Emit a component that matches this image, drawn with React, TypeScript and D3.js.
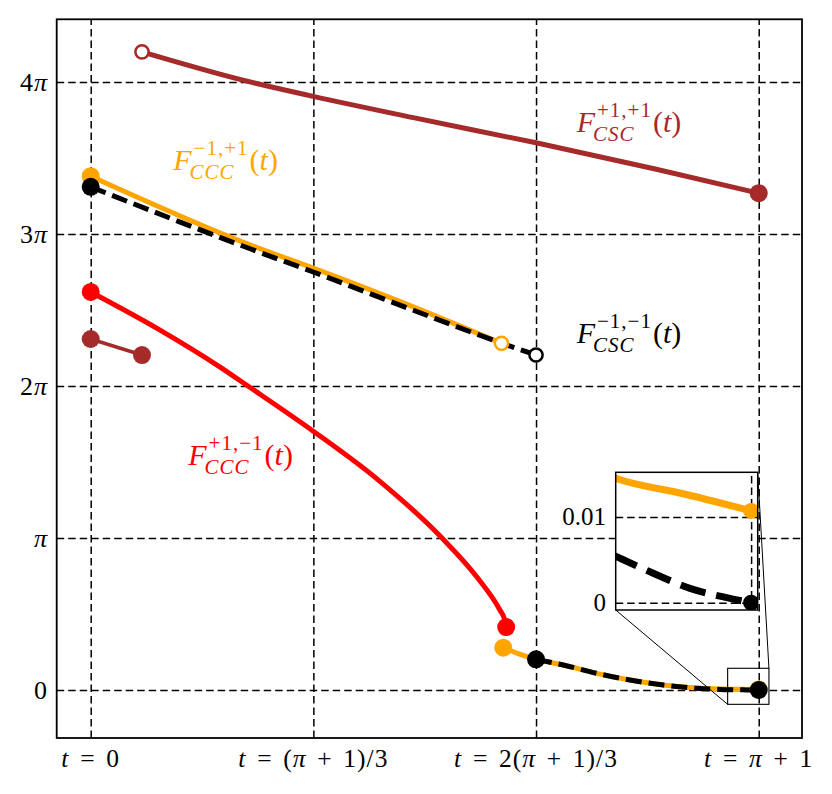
import { useEffect, useRef } from 'react'
import * as d3 from 'd3'

const PI = Math.PI
const T_END = PI + 1

// ticks
const xTicks = [0, T_END / 3, (2 * T_END) / 3, T_END]
const xTickLabels = ['t = 0', 't = (π + 1)/3', 't = 2(π + 1)/3', 't = π + 1']
const yTicks = [0, PI, 2 * PI, 3 * PI, 4 * PI]
const yTickLabels = ['0', 'π', '2π', '3π', '4π']
const insetYTicks = [0, 0.01]
const insetYTickLabels = ['0', '0.01']

// series, [t, F(t)]
const cscPlusPlus: [number, number][] = [
  [0.318, 13.19], [0.95, 12.6], [1.38, 12.27], [2.0, 11.83], [2.761, 11.31], [3.5, 10.77], [4.1416, 10.27]
]
const cscPlusPlusShort: [number, number][] = [
  [0, 7.255], [0.318, 6.924]
]
const cccPlusMinus: [number, number][] = [
  [0, 8.227], [0.43, 7.44], [0.8, 6.68], [0.975, 6.283], [1.38, 5.35], [1.78, 4.35],
  [2.178, 3.142], [2.393, 2.342], [2.537, 1.654], [2.565, 1.47], [2.576, 1.3]
]
const cccMinusPlusUpper: [number, number][] = [
  [0, 10.62], [0.988, 9.2], [1.38, 8.72], [2.0, 7.92], [2.547, 7.166]
]
const cccMinusPlusLower: [number, number][] = [
  [2.558, 0.875], [2.65, 0.752], [2.761, 0.634], [2.93, 0.517], [3.137, 0.345], [3.343, 0.207],
  [3.55, 0.105], [3.757, 0.042], [3.9, 0.022], [4.01, 0.0145], [4.0757, 0.0127], [4.1416, 0.0107]
]
const cscMinusMinusUpper: [number, number][] = [
  [0, 10.4], [0.988, 9.12], [1.38, 8.64], [2.0, 7.85], [2.547, 7.17], [2.761, 6.924]
]
const cscMinusMinusLower: [number, number][] = [
  [2.761, 0.634], [2.93, 0.517], [3.137, 0.345], [3.343, 0.207], [3.55, 0.103], [3.757, 0.035],
  [3.9, 0.012], [4.0158, 0.0051], [4.0433, 0.0036], [4.0822, 0.00167], [4.121, 0.00051], [4.1416, 0]
]

const BROWN = '#a52a2a'
const ORANGE = '#ffa500'
const RED = '#ff0000'
const BLACK = '#000000'
const FONT = '"Liberation Serif", "DejaVu Serif", serif'

type Marker = 'filled' | 'open' | null
interface Series {
  data: [number, number][]
  color: string
  width: number
  dash?: string
  start: Marker
  end: Marker
}

const series: Series[] = [
  { data: cscPlusPlus, color: BROWN, width: 5, start: 'open', end: 'filled' },
  { data: cscPlusPlusShort, color: BROWN, width: 3.5, start: 'filled', end: 'filled' },
  { data: cccPlusMinus, color: RED, width: 5, start: 'filled', end: 'filled' },
  { data: cccMinusPlusUpper, color: ORANGE, width: 5, start: 'filled', end: 'open' },
  { data: cccMinusPlusLower, color: ORANGE, width: 5, start: 'filled', end: 'filled' },
  { data: cscMinusMinusUpper, color: BLACK, width: 5, dash: '16,7', start: 'filled', end: 'open' },
  { data: cscMinusMinusLower, color: BLACK, width: 5, dash: '16,7', start: 'filled', end: 'filled' }
]

const labels = [
  { at: [3.013, 11.54], color: BROWN, sup: '+1,+1', sub: 'CSC' },
  { at: [0.512, 10.75], color: ORANGE, sup: '−1,+1', sub: 'CCC' },
  { at: [3.013, 7.166], color: BLACK, sup: '−1,−1', sub: 'CSC' },
  { at: [0.605, 4.65], color: RED, sup: '+1,−1', sub: 'CCC' }
]

// region shown magnified in the inset (main data coords)
const zoomBox = { t0: 3.949, t1: 4.205, y0: -0.296, y1: 0.449 }

type G = d3.Selection<SVGGElement, unknown, null, undefined>
type T = d3.Selection<SVGTextElement, unknown, null, undefined>

function mathTspans(text: T, str: string, size: number, gapEm = 0.3) {
  let gap = 0
  for (const ch of Array.from(str)) {
    if (ch === ' ') { gap += size * gapEm; continue }
    const span = text.append('tspan').text(ch)
    if (/[A-Za-zπ]/.test(ch)) span.attr('font-style', 'italic')
    if (gap) span.attr('dx', gap)
    gap = 0
  }
}

function fLabel(g: G, px: number, py: number, color: string, sup: string, sub: string) {
  const S = 30
  const s = 21
  const f = g.append('text').attr('x', px).attr('y', py).attr('font-size', S)
    .attr('font-style', 'italic').attr('fill', color).text('F')
  const fw = (f.node() as SVGTextElement).getComputedTextLength()
  const supT = g.append('text').attr('x', px + fw + 2).attr('y', py - S * 0.5).attr('font-size', s)
    .attr('letter-spacing', 1).attr('fill', color).text(sup)
  const subT = g.append('text').attr('x', px + fw - 2).attr('y', py + S * 0.3).attr('font-size', s)
    .attr('font-style', 'italic').attr('letter-spacing', 1).attr('fill', color).text(sub)
  const end = Math.max(
    px + fw + 2 + (supT.node() as SVGTextElement).getComputedTextLength(),
    px + fw - 2 + (subT.node() as SVGTextElement).getComputedTextLength()
  )
  const p = g.append('text').attr('x', end + 1).attr('y', py).attr('font-size', S).attr('fill', color)
  mathTspans(p, '(t)', S)
}

export default function App() {
  const svgRef = useRef<SVGSVGElement>(null)

  useEffect(() => {
    if (!svgRef.current) return
    const svg = d3.select(svgRef.current)
    svg.selectAll('*').remove()

    const W = 832
    const H = 794
    const box = { left: 56.7, right: 802, top: 19.3, bottom: 738 }

    svg.attr('width', W).attr('height', H).attr('font-family', FONT)
    svg.append('rect').attr('width', W).attr('height', H).attr('fill', '#fff')

    const x = d3.scaleLinear().domain([-0.2108, 4.41]).range([box.left, box.right])
    const y = d3.scaleLinear().domain([-0.992, 13.863]).range([box.bottom, box.top])

    const defs = svg.append('defs')
    defs.append('clipPath').attr('id', 'plot-clip').append('rect')
      .attr('x', box.left).attr('y', box.top)
      .attr('width', box.right - box.left).attr('height', box.bottom - box.top)

    // grid from the axes
    const gridX = svg.append('g').attr('transform', `translate(0,${box.bottom})`)
      .call(d3.axisBottom(x).tickValues(xTicks).tickSize(-(box.bottom - box.top)).tickFormat(() => ''))
    const gridY = svg.append('g').attr('transform', `translate(${box.left},0)`)
      .call(d3.axisLeft(y).tickValues(yTicks).tickSize(-(box.right - box.left)).tickFormat(() => ''))
    for (const g of [gridX, gridY]) {
      g.select('.domain').remove()
      g.selectAll('line').attr('stroke', '#000').attr('stroke-width', 1.5).attr('stroke-dasharray', '7.5,4')
    }

    const plot = svg.append('g').attr('clip-path', 'url(#plot-clip)')
    const line = (sx: d3.ScaleLinear<number, number>, sy: d3.ScaleLinear<number, number>) =>
      d3.line<[number, number]>().x(d => sx(d[0])).y(d => sy(d[1])).curve(d3.curveMonotoneX)

    const mainLine = line(x, y)
    series.forEach(s => {
      plot.append('path').attr('d', mainLine(s.data)).attr('fill', 'none')
        .attr('stroke', s.color).attr('stroke-width', s.width)
        .attr('stroke-dasharray', s.dash ?? null)
    })
    series.forEach(s => {
      const ends: [[number, number], Marker][] = [[s.data[0], s.start], [s.data[s.data.length - 1], s.end]]
      ends.forEach(([p, m]) => {
        if (!m) return
        const c = plot.append('circle').attr('cx', x(p[0])).attr('cy', y(p[1]))
        if (m === 'filled') c.attr('r', 9).attr('fill', s.color)
        else c.attr('r', 6.6).attr('fill', '#fff').attr('stroke', s.color).attr('stroke-width', 2.5)
      })
    })

    // curve labels
    const lab = svg.append('g')
    labels.forEach(l => fLabel(lab, x(l.at[0]), y(l.at[1]), l.color, l.sup, l.sub))

    // tick labels
    xTicks.forEach((t, i) => {
      const tx = svg.append('text').attr('x', x(t)).attr('y', 766.7).attr('font-size', 25.5)
        .attr('text-anchor', 'middle').attr('letter-spacing', 1)
      mathTspans(tx, xTickLabels[i], 25.5, 0.42)
    })
    yTicks.forEach((v, i) => {
      const ty = svg.append('text').attr('x', 48).attr('y', y(v) + 8.5).attr('font-size', 26)
        .attr('text-anchor', 'end').attr('letter-spacing', 1)
      mathTspans(ty, yTickLabels[i], 26)
    })

    // frame
    svg.append('rect').attr('x', box.left).attr('y', box.top)
      .attr('width', box.right - box.left).attr('height', box.bottom - box.top)
      .attr('fill', 'none').attr('stroke', '#000').attr('stroke-width', 1.8)

    // zoom indicator and inset
    const ib = { left: 615.7, right: 757.7, top: 472.3, bottom: 610 }
    const zx0 = x(zoomBox.t0), zx1 = x(zoomBox.t1), zy0 = y(zoomBox.y0), zy1 = y(zoomBox.y1)
    svg.append('rect').attr('x', zx0).attr('y', zy1).attr('width', zx1 - zx0).attr('height', zy0 - zy1)
      .attr('fill', 'none').attr('stroke', '#000').attr('stroke-width', 1.1)
    svg.append('line').attr('x1', ib.left).attr('y1', ib.bottom).attr('x2', zx0).attr('y2', zy0)
      .attr('stroke', '#000').attr('stroke-width', 1)
    svg.append('line').attr('x1', ib.right).attr('y1', ib.top).attr('x2', zx1).attr('y2', zy1)
      .attr('stroke', '#000').attr('stroke-width', 1)

    const ix = d3.scaleLinear().domain([4.01, 4.148]).range([ib.left, ib.right])
    const iy = d3.scaleLinear().domain([-0.00085, 0.0152]).range([ib.bottom, ib.top])

    defs.append('clipPath').attr('id', 'inset-clip').append('rect')
      .attr('x', ib.left).attr('y', ib.top).attr('width', ib.right - ib.left).attr('height', ib.bottom - ib.top)

    svg.append('rect').attr('x', ib.left).attr('y', ib.top)
      .attr('width', ib.right - ib.left).attr('height', ib.bottom - ib.top).attr('fill', '#fff')

    const igX = svg.append('g').attr('transform', `translate(0,${ib.bottom})`)
      .call(d3.axisBottom(ix).tickValues([T_END]).tickSize(-(ib.bottom - ib.top)).tickFormat(() => ''))
    const igY = svg.append('g').attr('transform', `translate(${ib.left},0)`)
      .call(d3.axisLeft(iy).tickValues(insetYTicks).tickSize(-(ib.right - ib.left)).tickFormat(() => ''))
    for (const g of [igX, igY]) {
      g.select('.domain').remove()
      g.selectAll('line').attr('stroke', '#000').attr('stroke-width', 1.5).attr('stroke-dasharray', '7.5,4')
    }

    const inset = svg.append('g').attr('clip-path', 'url(#inset-clip)')
    const insetLine = line(ix, iy)
    const insetSeries = [
      { data: cccMinusPlusLower, color: ORANGE, dash: null },
      { data: cscMinusMinusLower, color: BLACK, dash: '26,11' }
    ]
    insetSeries.forEach(s => {
      inset.append('path').attr('d', insetLine(s.data)).attr('fill', 'none')
        .attr('stroke', s.color).attr('stroke-width', 7).attr('stroke-dasharray', s.dash)
    })
    insetSeries.forEach(s => {
      const p = s.data[s.data.length - 1]
      inset.append('circle').attr('cx', ix(p[0])).attr('cy', iy(p[1])).attr('r', 8).attr('fill', s.color)
    })

    insetYTicks.forEach((v, i) => {
      svg.append('text').attr('x', 606).attr('y', iy(v) + 8.5).attr('font-size', 25)
        .attr('text-anchor', 'end').text(insetYTickLabels[i])
    })

    svg.append('rect').attr('x', ib.left).attr('y', ib.top)
      .attr('width', ib.right - ib.left).attr('height', ib.bottom - ib.top)
      .attr('fill', 'none').attr('stroke', '#000').attr('stroke-width', 1.5)
  }, [])

  return (
    <svg ref={svgRef} style={{ position: 'absolute', left: 0, top: 0 }} />
  )
}
